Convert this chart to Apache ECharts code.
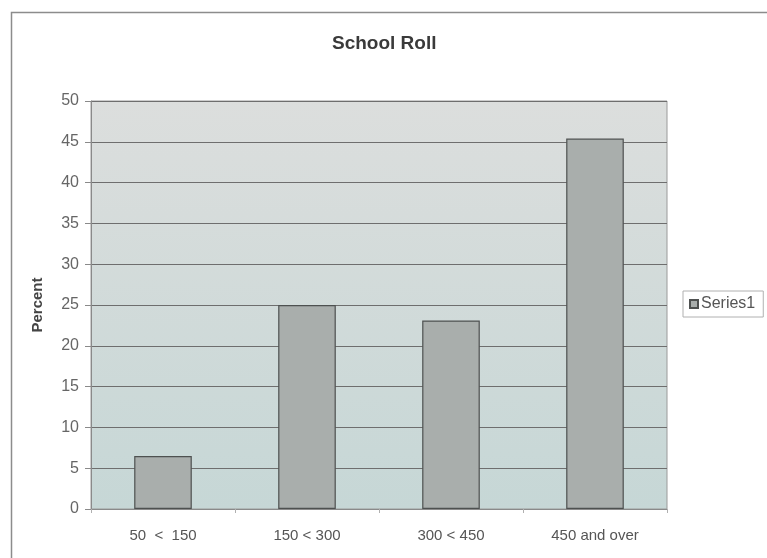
<!DOCTYPE html>
<html>
<head>
<meta charset="utf-8">
<title>School Roll</title>
<script src="https://cdn.jsdelivr.net/npm/echarts@6/dist/echarts.min.js"></script>
<style>
  html, body { margin: 0; padding: 0; background: #ffffff; }
  #chart { width: 767px; height: 558px; }
</style>
</head>
<body>
<div id="chart"></div>
<script>
// School roll size bands and the share of schools in each
const categories = ['50  <  150', '150 < 300', '300 < 450', '450 and over'];
const percentValues = [6.5, 25, 23.1, 45.4];
const seriesName = 'Series1';
const yTicks = { min: 0, max: 50, interval: 5 };

const chart = echarts.init(document.getElementById('chart'), null, { renderer: 'canvas' });

const font = '"Liberation Sans", Arial, sans-serif';

chart.setOption({
  animation: false,
  backgroundColor: '#ffffff',
  title: {
    text: 'School Roll',
    left: 332,
    top: 34,
    padding: 0,
    textStyle: { fontFamily: font, fontSize: 19, fontWeight: 'bold', color: '#3a3a3a' }
  },
  legend: {
    left: 683,
    top: 291,
    orient: 'vertical',
    icon: 'rect',
    itemWidth: 8,
    itemHeight: 8,
    itemGap: 4,
    padding: [5, 8, 5, 6],
    borderColor: '#b0b0b0',
    borderWidth: 1,
    textStyle: { fontFamily: font, fontSize: 16, color: '#555555', padding: [0, 0, 0, -2] },
    data: [seriesName]
  },
  grid: {
    left: 91,
    right: 100,
    top: 101,
    bottom: 49,
    show: true,
    borderColor: '#9a9a9a',
    borderWidth: 1,
    backgroundColor: new echarts.graphic.LinearGradient(0, 0, 0, 1, [
      { offset: 0, color: '#dcdedd' },
      { offset: 1, color: '#c6d7d6' }
    ])
  },
  xAxis: {
    type: 'category',
    data: categories,
    axisLine: { show: true, lineStyle: { color: '#8a8a8a', width: 1 } },
    axisTick: { show: true, length: 4, alignWithLabel: false, lineStyle: { color: '#b0b0b0' } },
    axisLabel: { margin: 19, fontFamily: font, fontSize: 15, color: '#555555' }
  },
  yAxis: {
    type: 'value',
    min: yTicks.min,
    max: yTicks.max,
    interval: yTicks.interval,
    name: 'Percent',
    nameLocation: 'middle',
    nameGap: 46,
    nameRotate: 90,
    nameTextStyle: { fontFamily: font, fontSize: 15, fontWeight: 'bold', color: '#444444' },
    axisLine: { show: true, lineStyle: { color: '#8a8a8a', width: 1 } },
    axisTick: { show: true, length: 6, lineStyle: { color: '#8a8a8a' } },
    axisLabel: { margin: 12, fontFamily: font, fontSize: 16, color: '#666666' },
    splitLine: { show: true, lineStyle: { color: '#6e6e6e', width: 1 } }
  },
  series: [{
    name: seriesName,
    type: 'bar',
    data: percentValues,
    barWidth: '40%',
    itemStyle: { color: '#a9aeac', borderColor: '#4e5150', borderWidth: 1.2 }
  }],
  graphic: [{
    type: 'rect',
    shape: { x: 11.5, y: 12.5, width: 800, height: 600 },
    style: { fill: 'none', stroke: '#8c8c8c', lineWidth: 1.5 },
    silent: true,
    z: -1
  }]
});
</script>
</body>
</html>
